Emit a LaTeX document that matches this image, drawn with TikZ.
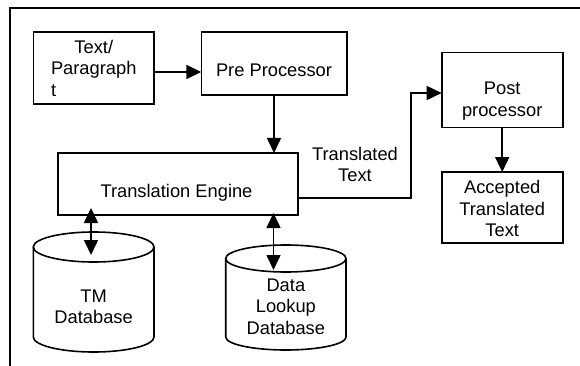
\documentclass[tikz,border=0pt]{standalone}
\usepackage{fontspec}
\setmainfont{Liberation Sans}
\usetikzlibrary{arrows.meta}
\begin{document}
\begin{tikzpicture}[x=1pt,y=1pt,
  line/.style={draw=black,line width=1.6pt},
  box/.style={line,rectangle,inner sep=0pt,outer sep=0pt},
  txt/.style={align=center,inner sep=0pt,font=\fontsize{18.3}{21.5}\selectfont},
  tip/.style={-{Triangle[length=15pt,width=14pt]}},
  arr/.style={line,tip},
  darr/.style={line,{Triangle[length=15pt,width=14pt]}-{Triangle[length=15pt,width=14pt]}}]
\useasboundingbox (0,0) rectangle (580,-366);
% frame
\draw[line] (10,-366) -- (10,-8) -- (580,-8);
% boxes
\node[box,minimum width=120.5pt,minimum height=72pt] (tp) at (93.75,-68) {};
\node[box,minimum width=145.4pt,minimum height=63pt] (pre) at (274,-63.5) {};
\node[box,minimum width=240pt,minimum height=62pt] (te) at (178,-184) {};
\node[box,minimum width=121pt,minimum height=75pt] (post) at (502.2,-90.2) {};
\node[box,minimum width=121pt,minimum height=70.7pt] (acc) at (502.2,-207.4) {};
% box texts
\node[txt] (tptxt) at (93.75,-70) {Text/\\Paragraph\\\rlap{t}\phantom{Paragraph}};
\node[txt] (pretxt) at (274,-70.5) {Pre Processor};
\node[txt] (tetxt) at (176.5,-192.6) {Translation Engine};
\node[txt] (posttxt) at (502.2,-101) {Post\\processor};
\node[txt] (acctxt) at (502.2,-208.8) {Accepted\\Translated\\Text};
\node[txt] (lbl) at (355,-164.5) {Translated\\Text};
% cylinders
\draw[line] (33.3,-247) -- (33.3,-337) arc[start angle=180,end angle=360,x radius=60.35,y radius=15] -- (154,-247);
\draw[line] (93.65,-247) ellipse [x radius=60.35, y radius=15];
\node[txt] (tm) at (93.65,-307) {TM\\Database};
\draw[line] (225.7,-258.5) -- (225.7,-337) arc[start angle=180,end angle=360,x radius=60.15,y radius=13] -- (346,-258.5);
\draw[line] (285.85,-258.5) ellipse [x radius=60.15, y radius=13.5];
\node[txt] (dl) at (285.85,-306.7) {Data\\Lookup\\Database};
% connectors
\coordinate (a1) at (154,-72);
\draw[arr] (tp.east |- a1) -- (pre.west |- a1);
\draw[arr] (pre.south) -- (pre.south |- te.north);
\coordinate (c1) at (298,-198);
\coordinate (bend) at (411,-93);
\draw[arr] (te.east |- c1) -| (bend) -- (post.west |- bend);
\draw[arr] (post.south) -- (acc.north);
\coordinate (tmA) at (91,-208);
\coordinate (tmB) at (91,-255);
\draw[darr] (tmA) -- (tmB);
\coordinate (dlA) at (273.5,-213);
\coordinate (dlB) at (273.5,-270);
\draw[darr] (dlA) -- (dlB);
\end{tikzpicture}
\end{document}
